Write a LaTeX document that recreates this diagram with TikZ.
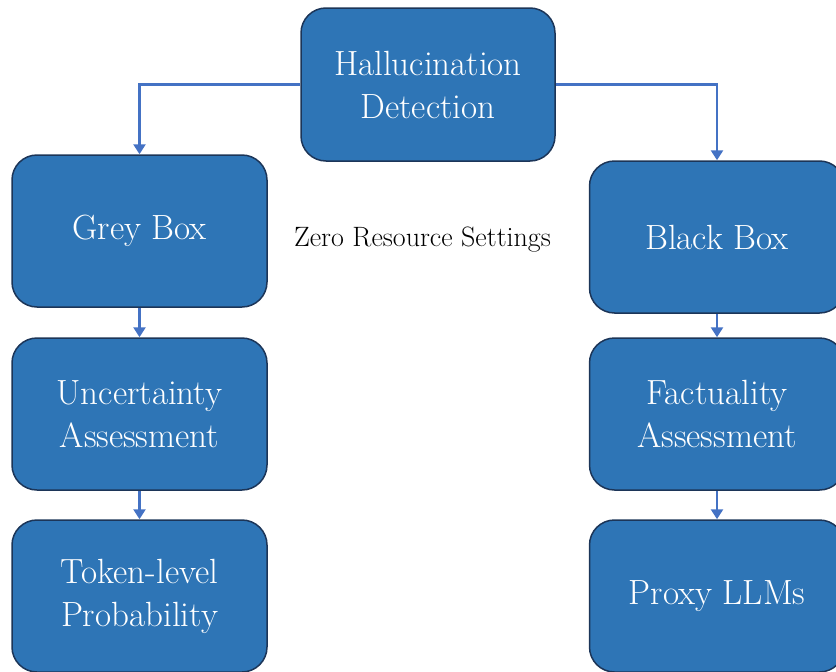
\documentclass[tikz,border=0pt]{standalone}
\usepackage{tikz}
\usetikzlibrary{arrows.meta}
\definecolor{boxblue}{HTML}{2E75B6}
\definecolor{boxedge}{HTML}{1C3558}
\definecolor{linkblue}{HTML}{4472C4}
\tikzset{
  stage/.style={draw=boxedge, line width=1.5pt, fill=boxblue, rounded corners=25pt,
    minimum width=255pt, minimum height=152pt, inner sep=0pt,
    text=white, align=center, font=\fontsize{35}{43}\selectfont},
  link/.style={draw=linkblue, line width=2.8pt, -{Triangle[length=10pt,width=12pt]}}
}
\begin{document}
\begin{tikzpicture}[x=1pt,y=-1pt]
  \useasboundingbox (0,0) rectangle (836,672);
  \clip (0,0) rectangle (836,672);
  % top
  \node[stage, minimum width=254pt, minimum height=153pt] (detect) at (428,84.5) {Hallucination\\Detection};
  % grey box branch
  \node[stage] (grey) at (139.5,231) {Grey Box};
  \node[stage] (uncert) at (139.5,414) {Uncertainty\\Assessment};
  \node[stage] (token) at (139.5,596) {Token-level\\Probability};
  % black box branch
  \node[stage] (black) at (717,237) {Black Box};
  \node[stage] (fact) at (717,414) {Factuality\\Assessment};
  \node[stage] (proxy) at (717,596) {Proxy LLMs};
  \node[font=\fontsize{28}{31}\selectfont] (zero) at (422.5,240) {Zero Resource Settings};
  \draw[link] (detect.west) -| (grey.north);
  \draw[link] (detect.east) -| (black.north);
  \draw[link] (grey) -- (uncert);
  \draw[link] (uncert) -- (token);
  \draw[link] (black) -- (fact);
  \draw[link] (fact) -- (proxy);
\end{tikzpicture}
\end{document}
